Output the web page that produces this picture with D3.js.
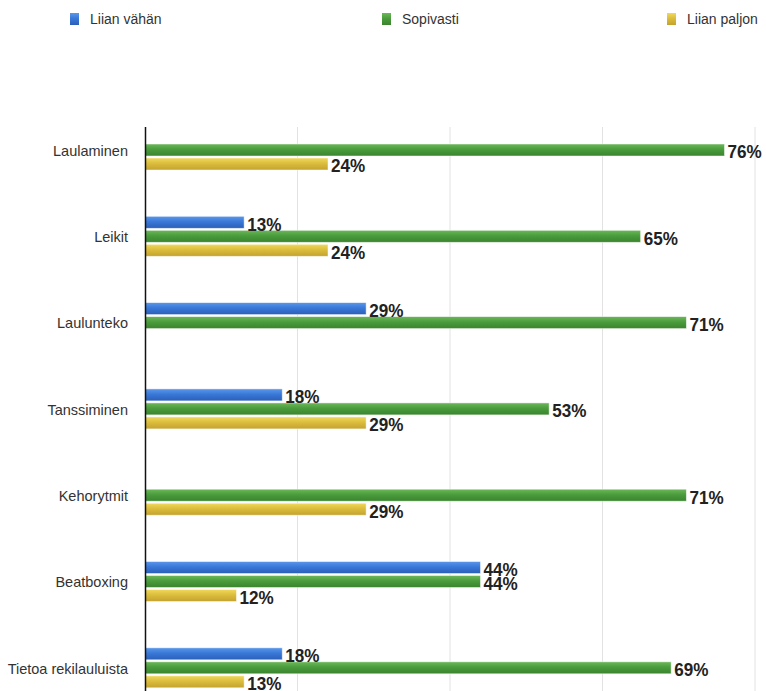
<!DOCTYPE html>
<html>
<head>
<meta charset="utf-8">
<script src="https://cdn.jsdelivr.net/npm/d3@7"></script>
<style>
  html, body { margin: 0; padding: 0; background: #fff; overflow: hidden; }
  svg { display: block; }
</style>
</head>
<body>
<svg id="chart" width="766" height="691"></svg>
<script>
// ---- Data ----
const categories = ["Laulaminen", "Leikit", "Laulunteko", "Tanssiminen", "Kehorytmit", "Beatboxing", "Tietoa rekilauluista"];
const seriesNames = ["Liian vähän", "Sopivasti", "Liian paljon"];
const liianVahan  = [0, 13, 29, 18, 0, 44, 18];
const sopivasti   = [76, 65, 71, 53, 71, 44, 69];
const liianPaljon = [24, 24, 0, 29, 29, 12, 13];
const gridTicks = [20, 40, 60, 80];

const seriesValues = [liianVahan, sopivasti, liianPaljon];
const colors = [
  { top: "#5a97ea", mid: "#3a78d8", bot: "#2a5fb8" },
  { top: "#6cb85a", mid: "#4a9c3c", bot: "#3a842e" },
  { top: "#f0d95c", mid: "#dcbd3c", bot: "#c4a230" }
];

const svg = d3.select("#chart");
const W = 766, H = 691;
const plotTop = 127;

// gradients
const defs = svg.append("defs");
colors.forEach((c, i) => {
  const g = defs.append("linearGradient").attr("id", "grad" + i)
    .attr("x1", 0).attr("y1", 0).attr("x2", 0).attr("y2", 1);
  g.append("stop").attr("offset", "0%").attr("stop-color", c.top);
  g.append("stop").attr("offset", "45%").attr("stop-color", c.mid);
  g.append("stop").attr("offset", "100%").attr("stop-color", c.bot);
});

// scales
const x = d3.scaleLinear().domain([0, 80]).range([145, 755]);
const y = d3.scaleBand().domain(categories).range([83.7, 734.1]).paddingInner(0.5365).paddingOuter(0.5365);
const ySub = d3.scaleBand().domain([0, 1, 2]).range([0, 40]).paddingInner(1 / 7).paddingOuter(0);

// grid lines
svg.append("g").selectAll("line").data(gridTicks).join("line")
  .attr("x1", d => x(d)).attr("x2", d => x(d))
  .attr("y1", plotTop).attr("y2", H)
  .attr("stroke", "#e2e2e2").attr("stroke-width", 1);

// legend
const legendX = [70, 382, 667];
const legend = svg.append("g");
seriesNames.forEach((name, i) => {
  legend.append("rect").attr("x", legendX[i]).attr("y", 13).attr("width", 9).attr("height", 12)
    .attr("fill", "url(#grad" + i + ")");
  legend.append("text").attr("x", legendX[i] + 20).attr("y", 24)
    .attr("font-family", "Liberation Sans, Arial, sans-serif").attr("font-size", 14)
    .attr("fill", "#333").text(name);
});

// bars
const groups = svg.append("g").selectAll("g").data(categories).join("g")
  .attr("transform", d => `translate(0,${y(d)})`);

groups.each(function(cat, ci) {
  const g = d3.select(this);
  seriesValues.forEach((vals, si) => {
    const v = vals[ci];
    if (!v) return;
    g.append("rect")
      .attr("x", x(0)).attr("y", ySub(si))
      .attr("width", x(v) - x(0)).attr("height", ySub.bandwidth())
      .attr("fill", "url(#grad" + si + ")")
      .attr("stroke", "rgba(255,255,255,0.6)").attr("stroke-width", 0.8);
  });
});

// value labels
groups.each(function(cat, ci) {
  const g = d3.select(this);
  seriesValues.forEach((vals, si) => {
    const v = vals[ci];
    if (!v) return;
    const tx = x(v) + 3, ty = ySub(si) + ySub.bandwidth() / 2 + 8.5;
    g.append("text")
      .attr("transform", `translate(${tx},${ty}) scale(0.9,1)`)
      .attr("font-family", "Liberation Sans, Arial, sans-serif").attr("font-weight", "bold")
      .attr("font-size", 19).attr("fill", "#222")
      .text(v + "%");
  });
});

// category axis
const axis = svg.append("g").attr("transform", `translate(145,0)`)
  .call(d3.axisLeft(y).tickSize(0).tickPadding(17));
axis.select(".domain").remove();
axis.selectAll("text")
  .attr("font-family", "Liberation Sans, Arial, sans-serif").attr("font-size", 14.5)
  .attr("fill", "#333").attr("dy", "0.4em");

// vertical axis line
svg.append("line").attr("x1", 145.5).attr("x2", 145.5).attr("y1", plotTop).attr("y2", H)
  .attr("stroke", "#111").attr("stroke-width", 1.5);
</script>
</body>
</html>
